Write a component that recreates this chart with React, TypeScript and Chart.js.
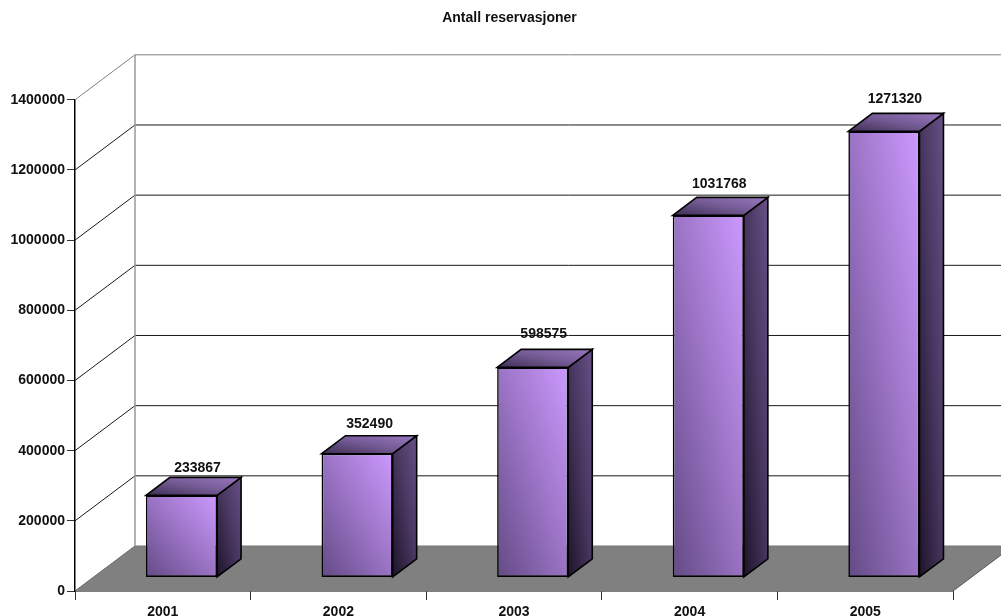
import { useEffect, useRef } from "react";
import { Chart, registerables } from "chart.js";

Chart.register(...registerables);

const years = ["2001", "2002", "2003", "2004", "2005"];
const reservations = [233867, 352490, 598575, 1031768, 1271320];
// Small per-label nudges so a value label clears its box and nearby gridlines.
const labelNudgeX = [5, 1.5, 0, 0, 0];
const labelNudgeY = [4, 1, -2, 0, -1];

const FONT = "'Liberation Sans', Arial, sans-serif";
const TEXT = "#111111";
const OUTLINE = "#000000";

// Oblique projection of the box: wall depth, and where the bars stand inside it.
const WALL_DX = 60;
const WALL_DY = -45;
const BAR_SHIFT_X = 18.7;
const BAR_SHIFT_Y = -13.6;
const BAR_DX = 24;
const BAR_DY = -18;

type Stop = [number, string];

// Corner-to-corner gradient stretched to the box, so isolines follow its other diagonal.
function boxGradient(ctx: CanvasRenderingContext2D, left: number, top: number, w: number, h: number, stops: Stop[]) {
  if (!(w > 0) || !(h > 0) || !isFinite(left) || !isFinite(top)) return stops[1][1];
  const k = 2 / (1 / (w * w) + 1 / (h * h));
  const x0 = left;
  const y0 = top + h;
  const g = ctx.createLinearGradient(x0, y0, x0 + k / w, y0 - k / h);
  stops.forEach(([t, c]) => g.addColorStop(t, c));
  return g;
}

const FRONT_STOPS: Stop[] = [[0, "#634a85"], [0.5, "#9a73c4"], [1, "#cc99ff"]];
const SIDE_STOPS: Stop[] = [[0, "#1e1429"], [0.55, "#4a3863"], [1, "#685086"]];
const TOP_STOPS: Stop[] = [[0, "#3e2e52"], [0.5, "#735a94"], [1, "#9a78bf"]];

function facePath(ctx: CanvasRenderingContext2D, pts: number[][]) {
  ctx.beginPath();
  pts.forEach(([x, y], i) => (i ? ctx.lineTo(x, y) : ctx.moveTo(x, y)));
  ctx.closePath();
}

// The title is centred on the full canvas rather than over the plot box.
const titleCentrePlugin = {
  id: "titleCentre",
  afterLayout(chart: any) {
    const block = chart.titleBlock;
    if (block) {
      block.left = 0;
      block.right = 1019;
    }
  },
};

// Floor and side/back walls, with gridlines taken from the value axis ticks.
const wallsPlugin = {
  id: "walls",
  beforeDatasetsDraw(chart: any) {
    const { ctx, chartArea, scales } = chart;
    const { left, right, bottom } = chartArea;
    const y = scales.y;
    ctx.save();
    facePath(ctx, [
      [left, bottom],
      [right, bottom],
      [right + WALL_DX, bottom + WALL_DY],
      [left + WALL_DX, bottom + WALL_DY],
    ]);
    ctx.fillStyle = "#808080";
    ctx.fill();

    y.ticks.forEach((tick: any, i: number) => {
      const py = y.getPixelForValue(tick.value);
      const isTop = i === y.ticks.length - 1;
      ctx.beginPath();
      if (tick.value === 0) {
        ctx.moveTo(left, py);
        ctx.lineTo(left + WALL_DX, py + WALL_DY);
        ctx.strokeStyle = "#666666";
      } else {
        ctx.moveTo(left, py);
        ctx.lineTo(left + WALL_DX, py + WALL_DY);
        ctx.lineTo(right + WALL_DX, py + WALL_DY);
        ctx.strokeStyle = isTop ? "#808080" : "#1a1a1a";
      }
      ctx.lineWidth = 1;
      ctx.stroke();
    });

    // Floor edges drawn over the fill.
    ctx.strokeStyle = "#555555";
    ctx.lineWidth = 1;
    ctx.beginPath();
    ctx.moveTo(right, bottom);
    ctx.lineTo(right + WALL_DX, bottom + WALL_DY);
    ctx.stroke();
    ctx.beginPath();
    ctx.moveTo(left + WALL_DX, bottom + WALL_DY);
    ctx.lineTo(right + WALL_DX, bottom + WALL_DY);
    ctx.strokeStyle = "#777777";
    ctx.stroke();

    // Left edge of the back wall.
    ctx.strokeStyle = "#999999";
    ctx.lineWidth = 1.5;
    ctx.beginPath();
    ctx.moveTo(left + WALL_DX, y.getPixelForValue(y.max) + WALL_DY);
    ctx.lineTo(left + WALL_DX, bottom + WALL_DY);
    ctx.stroke();
    ctx.restore();
  },
};

// Chart.js paints the front face; this adds the side and top faces and shifts the bars into the box.
const barBoxPlugin = {
  id: "barBox",
  beforeDatasetDraw(chart: any, args: any) {
    const { ctx } = chart;
    ctx.save();
    ctx.translate(BAR_SHIFT_X, BAR_SHIFT_Y);
    args.meta.data.forEach((bar: any) => {
      const { x, y, base, width } = bar.getProps(["x", "y", "base", "width"], true);
      const l = x - width / 2;
      const r = x + width / 2;
      ctx.lineWidth = 1.6;
      ctx.strokeStyle = OUTLINE;
      ctx.lineJoin = "miter";

      facePath(ctx, [[r, base], [r + BAR_DX, base + BAR_DY], [r + BAR_DX, y + BAR_DY], [r, y]]);
      ctx.fillStyle = boxGradient(ctx, r, y + BAR_DY, BAR_DX, base - y - BAR_DY, SIDE_STOPS);
      ctx.fill();
      ctx.stroke();

      facePath(ctx, [[l, y], [r, y], [r + BAR_DX, y + BAR_DY], [l + BAR_DX, y + BAR_DY]]);
      ctx.fillStyle = boxGradient(ctx, l, y + BAR_DY, width + BAR_DX, -BAR_DY, TOP_STOPS);
      ctx.fill();
      ctx.stroke();
    });
  },
  afterDatasetDraw(chart: any) {
    chart.ctx.restore();
  },
};

// Value labels above each box.
const valueLabelPlugin = {
  id: "valueLabels",
  afterDatasetsDraw(chart: any) {
    const { ctx } = chart;
    const meta = chart.getDatasetMeta(0);
    ctx.save();
    ctx.font = `bold 14px ${FONT}`;
    ctx.fillStyle = TEXT;
    ctx.textAlign = "center";
    ctx.textBaseline = "middle";
    meta.data.forEach((bar: any, i: number) => {
      const px = bar.x + BAR_SHIFT_X + 11 + labelNudgeX[i];
      const py = bar.y + BAR_SHIFT_Y - 31 + labelNudgeY[i];
      ctx.fillText(String(reservations[i]), px, py);
    });
    ctx.restore();
  },
};

export default function App() {
  const ref = useRef<HTMLCanvasElement>(null);

  useEffect(() => {
    const chart = new Chart(ref.current as HTMLCanvasElement, {
      type: "bar",
      data: {
        labels: years,
        datasets: [
          {
            label: "Antall reservasjoner",
            data: reservations,
            clip: false,
            barPercentage: 0.405,
            categoryPercentage: 1,
            borderColor: OUTLINE,
            borderWidth: 1.6,
            borderSkipped: false,
            backgroundColor: (c: any) => {
              const { x, y } = c.chart.scales;
              if (!x || !y || c.dataIndex === undefined) return "#9a73c4";
              const step = x.getPixelForValue(1) - x.getPixelForValue(0);
              const w = step * 0.405;
              const l = x.getPixelForValue(c.dataIndex) - w / 2;
              const t = y.getPixelForValue(c.raw);
              return boxGradient(c.chart.ctx, l, t, w, y.getPixelForValue(0) - t, FRONT_STOPS);
            },
          } as any,
        ],
      },
      options: {
        animation: false,
        responsive: false,
        devicePixelRatio: 1,
        layout: { padding: { right: 48, left: 0, top: 0, bottom: 0 } },
        plugins: {
          legend: { display: false },
          tooltip: { enabled: false },
          title: {
            display: true,
            text: "Antall reservasjoner",
            color: TEXT,
            font: { family: FONT, size: 14, weight: "bold" },
            padding: { top: 10, bottom: 73 },
          },
        },
        scales: {
          x: {
            grid: { drawOnChartArea: false, color: "#333333", tickLength: 9, offset: true },
            border: { color: OUTLINE, width: 1.5 },
            ticks: { color: TEXT, padding: 4, maxRotation: 0, font: { family: FONT, size: 14, weight: "bold" } },
            afterFit: (s: any) => {
              s.height = 25;
            },
          },
          y: {
            min: 0,
            max: 1400000,
            grid: { drawOnChartArea: false, color: "#333333", tickLength: 8 },
            border: { color: OUTLINE, width: 1.5 },
            ticks: {
              stepSize: 200000,
              color: TEXT,
              padding: 2,
              font: { family: FONT, size: 14, weight: "bold" },
              callback: (v: any) => String(v),
            },
            afterFit: (s: any) => {
              s.width = 75;
            },
          },
        },
      },
      plugins: [titleCentrePlugin, wallsPlugin, barBoxPlugin, valueLabelPlugin],
    } as any);
    return () => chart.destroy();
  }, []);

  return (
    <div style={{ position: "absolute", left: 0, top: 0, width: 1001, height: 616, background: "#ffffff" }}>
      <canvas ref={ref} width={1001} height={616} style={{ display: "block" }} />
    </div>
  );
}
